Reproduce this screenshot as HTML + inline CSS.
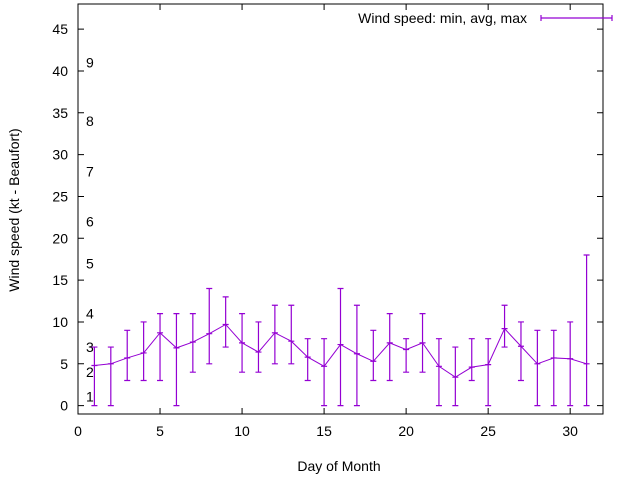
<!DOCTYPE html>
<html><head><meta charset="utf-8"><style>body{margin:0;background:#fff}svg{font-family:"Liberation Sans",sans-serif}</style></head>
<body>
<svg id="c" width="640" height="480" xmlns="http://www.w3.org/2000/svg"></svg>
<script>
const days=[1,2,3,4,5,6,7,8,9,10,11,12,13,14,15,16,17,18,19,20,21,22,23,24,25,26,27,28,29,30,31];
const minV=[0,0,3,3,3,0,4,5,7,4,4,5,5,3,0,0,0,3,3,4,4,0,0,3,0,7,3,0,0,0,0];
const avgV=[4.8,5.0,5.7,6.3,8.7,6.9,7.6,8.6,9.7,7.5,6.4,8.7,7.7,5.8,4.7,7.3,6.2,5.3,7.5,6.7,7.5,4.7,3.4,4.6,4.9,9.2,7.1,5.0,5.7,5.6,5.0];
const maxV=[7,7,9,10,11,11,11,14,13,11,10,12,12,8,8,14,12,9,11,8,11,8,7,8,8,12,10,9,9,10,18];
const xTicks=[0,5,10,15,20,25,30];
const yTicks=[0,5,10,15,20,25,30,35,40,45];
const bft=["1","2","3","4","5","6","7","8","9"];
const bftY=[1.1,4,7,11,17,22,28,34,41];
const L=78,R=603,T=4,B=414,X0=0,X1=32,Y0=-1,Y1=48;
const sx=v=>L+(v-X0)/(X1-X0)*(R-L);
const sy=v=>B-(v-Y0)/(Y1-Y0)*(B-T);
const svg=document.getElementById('c');const NS='http://www.w3.org/2000/svg';
function mk(t,a,txt){const e=document.createElementNS(NS,t);for(const k in a)e.setAttribute(k,a[k]);if(txt!==undefined)e.textContent=txt;svg.appendChild(e);return e;}
let e;
e=mk('rect',{x:L,y:T,width:R-L,height:B-T,fill:'none',stroke:'#000','stroke-width':1});

xTicks.forEach(v=>{const x=sx(v);
 e=mk('path',{d:`M${x},${B}v-6M${x},${T}v6`,stroke:'#000'});
 e=mk('text',{x:x,y:B+22,'text-anchor':'middle','font-size':14},v);});
yTicks.forEach(v=>{const y=sy(v);
 e=mk('path',{d:`M${L},${y}h6M${R},${y}h-6`,stroke:'#000'});
 e=mk('text',{x:L-10,y:y+5,'text-anchor':'end','font-size':14},v);});
bft.forEach((s,i)=>{e=mk('text',{x:86,y:sy(bftY[i])+5,'font-size':14},s);});
e=mk('text',{x:339,y:471,'text-anchor':'middle','font-size':14},'Day of Month');
e=mk('text',{x:19,y:210,'text-anchor':'middle','font-size':14,transform:'rotate(-90 19 210)'},'Wind speed (kt - Beaufort)');
const col='#9400d3';
days.forEach((d,i)=>{const x=sx(d),y1=sy(minV[i]),y2=sy(maxV[i]);
 e=mk('path',{d:`M${x},${y1}V${y2}M${x-3},${y1}h6M${x-3},${y2}h6M${x-3},${sy(avgV[i])}h6`,stroke:col,'stroke-width':1.2,fill:'none'});
 });
e=mk('polyline',{points:days.map((d,i)=>sx(d)+','+sy(avgV[i])).join(' '),fill:'none',stroke:col,'stroke-width':1});

e=mk('text',{x:527,y:23,'text-anchor':'end','font-size':14},'Wind speed: min, avg, max');
e=mk('path',{d:'M541,18H612M541,15v6M612,15v6',stroke:col,'stroke-width':1.2});
</script>
</body></html>
